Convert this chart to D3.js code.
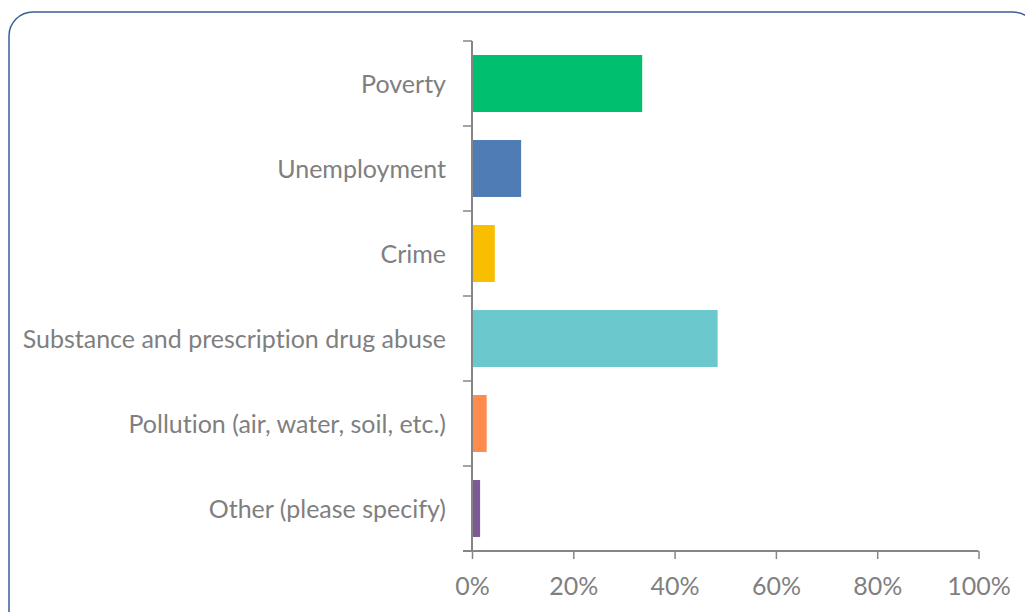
<!DOCTYPE html>
<html>
<head>
<meta charset="utf-8">
<title>Community issues</title>
<script src="https://cdn.jsdelivr.net/npm/d3@7"></script>
<style>
  body { margin: 0; background: #fff; }
  text { font-family: Lato, "Open Sans", sans-serif; fill: #7f7f7f; font-variant-ligatures: none; }
</style>
</head>
<body>
<script>
var categories = ["Poverty", "Unemployment", "Crime",
    "Substance and prescription drug abuse",
    "Pollution (air, water, soil, etc.)", "Other (please specify)"];
var values = [33.6, 9.7, 4.5, 48.5, 2.9, 1.6];
var colors = ["#00bf6f", "#507cb6", "#f9be00", "#6bc8cd", "#ff8b4f", "#7d5a94"];
var xTicks = [0, 20, 40, 60, 80, 100];

var w = 1025, h = 612;
var svg = d3.select("body").append("svg")
    .attr("width", w)
    .attr("height", h);

// frame
svg.append("rect")
    .attr("x", 9).attr("y", 12)
    .attr("width", 1028).attr("height", 640)
    .attr("rx", 24).attr("ry", 24)
    .attr("fill", "none")
    .attr("stroke", "#3a5f95")
    .attr("stroke-width", 1.5);

var plotLeft = 472, plotRight = 978.5, plotTop = 41, plotBottom = 551;

var x = d3.scaleLinear().domain([0, 100]).range([plotLeft, plotRight]);
var y = d3.scaleBand().domain(categories).range([plotTop, plotBottom])
    .paddingInner(0.33).paddingOuter(0.165);

svg.selectAll("rect.bar")
    .data(values)
  .enter().append("rect")
    .attr("class", "bar")
    .attr("x", x(0))
    .attr("y", function(d, i) { return y(categories[i]); })
    .attr("width", function(d) { return x(d) - x(0); })
    .attr("height", y.bandwidth())
    .attr("fill", function(d, i) { return colors[i]; });

// category axis with ticks between bands
var yEdges = d3.range(categories.length + 1).map(function(i) {
    return plotTop + i * y.step();
});
svg.selectAll("line.ytick")
    .data(yEdges)
  .enter().append("line")
    .attr("x1", plotLeft - 9).attr("x2", plotLeft)
    .attr("y1", function(d) { return d; })
    .attr("y2", function(d) { return d; })
    .attr("stroke", "#868686").attr("stroke-width", 1.5);

svg.append("line")
    .attr("x1", plotLeft).attr("x2", plotLeft)
    .attr("y1", plotTop).attr("y2", plotBottom)
    .attr("stroke", "#868686").attr("stroke-width", 2);

svg.selectAll("text.cat")
    .data(categories)
  .enter().append("text")
    .attr("class", "cat")
    .attr("x", 446)
    .attr("y", function(d) { return y(d) + y.bandwidth() / 2; })
    .attr("dy", "0.38em")
    .attr("text-anchor", "end")
    .style("font-size", "25px")
    .text(function(d) { return d; });

// value axis
var xAxis = d3.axisBottom(x)
    .tickValues(xTicks)
    .tickSize(8)
    .tickPadding(18)
    .tickFormat(function(d) { return d + "%"; });

var gx = svg.append("g")
    .attr("transform", "translate(0," + plotBottom + ")")
    .call(xAxis);
gx.select(".domain").attr("stroke", "#868686").attr("stroke-width", 2)
    .attr("d", "M" + (plotLeft - 9) + ",0H" + plotRight);
gx.selectAll(".tick line").attr("stroke", "#868686").attr("stroke-width", 1.5);
gx.selectAll(".tick text")
    .style("font-size", "25px")
    .style("font-family", "Lato, 'Open Sans', sans-serif")
    .attr("fill", "#7f7f7f");
</script>
</body>
</html>
